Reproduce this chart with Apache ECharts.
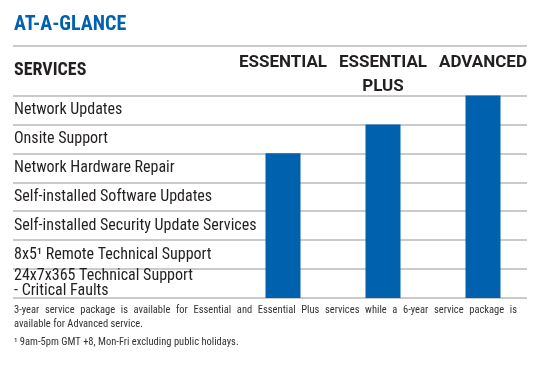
<!DOCTYPE html>
<html>
<head>
<meta charset="utf-8">
<script src="https://cdn.jsdelivr.net/npm/echarts@6/dist/echarts.min.js"></script>
<style>html,body{margin:0;padding:0;background:#fff}#c{width:540px;height:374px}</style>
</head>
<body>
<div id="c"></div>
<script>
var titleText = 'AT-A-GLANCE';
var servicesHeader = 'SERVICES';
var services = [
  'Network Updates',
  'Onsite Support',
  'Network Hardware Repair',
  'Self-installed Software Updates',
  'Self-installed Security Update Services',
  '8x5\u00B9 Remote Technical Support',
  '24x7x365 Technical Support\n- Critical Faults'
];
var plans = ['ESSENTIAL', 'ESSENTIAL\nPLUS', 'ADVANCED'];
var servicesIncluded = [5, 6, 7];
var noteLine1 = '3-year service package is available for Essential and Essential Plus services while a 6-year service package is';
var noteLine2 = 'available for Advanced service.';
var footnote = '\u00B9 9am-5pm GMT +8, Mon-Fri excluding public holidays.';

var FONT = "Roboto, 'Liberation Sans', sans-serif";
var TEXT = '#231f20';
var BLUE = '#0061ae';
var LINE = '#b9b9b9';
var NOTE_SIZE = 10.5;

// justify the first note line across the table width
function justified(text, width) {
  var ctx = document.createElement('canvas').getContext('2d');
  ctx.font = 'condensed ' + NOTE_SIZE + 'px ' + FONT;
  var words = text.split(' ');
  var total = 0;
  words.forEach(function (w) { total += ctx.measureText(w).width; });
  var gap = (width - total) / (words.length - 1);
  var parts = [];
  words.forEach(function (w, i) {
    parts.push('{w|' + w + '}');
    if (i < words.length - 1) parts.push('{g| }');
  });
  return {text: parts.join(''), gap: gap};
}
var j1 = justified(noteLine1, 503);

var chart = echarts.init(document.getElementById('c'), null, {renderer: 'canvas'});
chart.setOption({
  animation: false,
  backgroundColor: '#fff',
  grid: [
    {left: 13, right: 13, top: 95.5, bottom: 76},
    {left: 233, right: 7, top: 95.5, bottom: 76}
  ],
  xAxis: [
    {gridIndex: 0, type: 'value', show: false, min: 0, max: 1},
    {gridIndex: 1, type: 'category', data: plans, position: 'top',
     axisLine: {show: false}, axisTick: {show: false},
     axisLabel: {interval: 0, hideOverlap: false, margin: 45, verticalAlign: 'top', align: 'center',
       fontFamily: FONT, fontWeight: 'bold', fontSize: 17,
       color: TEXT, lineHeight: 24}}
  ],
  yAxis: [
    {gridIndex: 0, type: 'category', data: services, inverse: true,
     axisLine: {show: false}, axisTick: {show: false},
     splitLine: {show: true, lineStyle: {color: LINE, width: 1.5}},
     axisLabel: {interval: 0, align: 'left', margin: -1, fontFamily: FONT, fontStyle: 'condensed',
       fontSize: 16, color: TEXT, lineHeight: 15}},
    {gridIndex: 1, type: 'value', show: false, min: 0, max: 7, interval: 1}
  ],
  series: [{
    type: 'bar', xAxisIndex: 1, yAxisIndex: 1, data: servicesIncluded,
    barWidth: 35, itemStyle: {color: BLUE}
  }],
  graphic: [
    {type: 'text', x: 14, y: 24.5, style: {text: titleText, fontFamily: FONT, fontStyle: 'condensed',
      fontWeight: 'bold', fontSize: 20, fill: BLUE, verticalAlign: 'middle'}},
    {type: 'line', shape: {x1: 13, y1: 46, x2: 527, y2: 46}, style: {stroke: LINE, lineWidth: 1.5}},
    {type: 'text', x: 14, y: 70.5, style: {text: servicesHeader, fontFamily: FONT, fontStyle: 'semi-condensed',
      fontWeight: 'bold', fontSize: 18, fill: TEXT, verticalAlign: 'middle'}},
    {type: 'text', x: 14, y: 310, style: {text: j1.text, verticalAlign: 'middle',
      rich: {
        w: {fontFamily: FONT, fontStyle: 'condensed', fontSize: NOTE_SIZE, fill: '#333'},
        g: {fontFamily: FONT, fontStyle: 'condensed', fontSize: NOTE_SIZE, width: j1.gap}
      }}},
    {type: 'text', x: 14, y: 324, style: {text: noteLine2, fontFamily: FONT, fontStyle: 'condensed',
      fontSize: NOTE_SIZE, fill: '#333', verticalAlign: 'middle'}},
    {type: 'text', x: 14, y: 342, style: {text: footnote, fontFamily: FONT, fontStyle: 'condensed',
      fontSize: NOTE_SIZE, fill: '#333', verticalAlign: 'middle'}}
  ]
});
</script>
</body>
</html>
